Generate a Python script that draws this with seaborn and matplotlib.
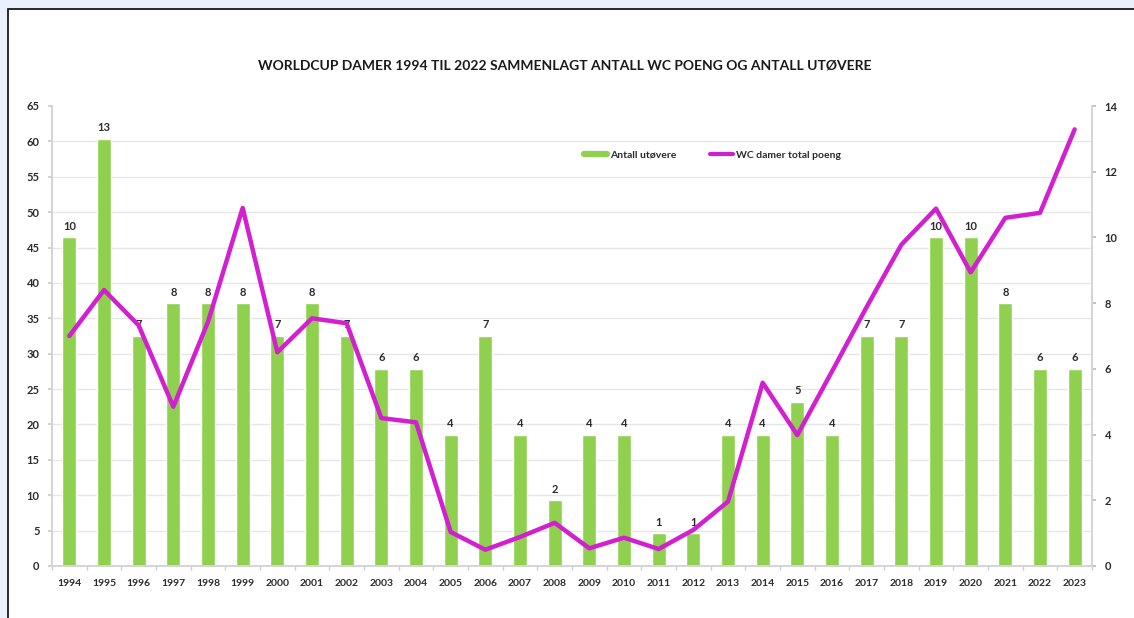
import numpy as np
import matplotlib
matplotlib.use("Agg")
import matplotlib.pyplot as plt
from matplotlib.lines import Line2D
from matplotlib.patches import Rectangle
from matplotlib.ticker import FixedLocator
import seaborn as sns

years = [str(y) for y in range(1994, 2024)]
antall = [10, 13, 7, 8, 8, 8, 7, 8, 7, 6, 6, 4, 7, 4, 2, 4, 4, 1, 1, 4,
          4, 5, 4, 7, 7, 10, 10, 8, 6, 6]
poeng = [32.5, 39, 34, 22.5, 34.5, 50.6, 30.2, 35, 34.3, 20.9, 20.3, 4.8,
         2.3, 4.1, 6.1, 2.5, 4, 2.4, 5.1, 9.1, 25.9, 18.5, 27.5, 36.6,
         45.4, 50.5, 41.5, 49.2, 49.9, 61.7]

title = "WORLDCUP DAMER 1994 TIL 2022 SAMMENLAGT ANTALL WC POENG OG ANTALL UTØVERE"
green = "#8FD14F"
magenta = "#D21FD0"
txt = "#2b2b2b"

sns.set_theme(style="white")
plt.rcParams["font.family"] = ["Lato", "DejaVu Sans"]

fig = plt.figure(figsize=(11.34, 6.18), dpi=100, facecolor="#E9F1FC")
fig.add_artist(Rectangle((8 / 1134, -0.1), 1.2, 1 - 9 / 618 + 0.1,
                         transform=fig.transFigure, facecolor="white",
                         edgecolor="#1a1a1a", lw=1.3, zorder=-1))

ax = fig.add_axes([52 / 1134, 1 - 566 / 618, 1040 / 1134, 460 / 618])
ax.patch.set_visible(False)

# bars: number of athletes, right axis scale
sns.barplot(x=years, y=antall, ax=ax, color=green, width=0.4, saturation=1)
ax.bar_label(ax.containers[0], padding=4, fontsize=8, fontweight="bold",
             color=txt)
ax.set_xlabel("")
ax.set_ylabel("")

# line: total WC points, left axis scale
ax2 = ax.twinx()
sns.lineplot(x=np.arange(len(years)), y=poeng, ax=ax2, color=magenta, lw=3.2)
ax2.set_ylim(0, 65)
ax2.yaxis.tick_left()
ax2.set_yticks(np.arange(0, 66, 5))
ax2.tick_params(axis="y", length=3, color="#cccccc", pad=6, labelsize=8,
                labelcolor=txt)
for lab in ax2.get_yticklabels():
    lab.set_fontweight("bold")
ax2.set_ylabel("")

# twinx moves the host ticks to the left, so set them right again
ax.set_ylim(0, 14)
ax.set_xlim(-0.5, len(years) - 0.5)
ax.yaxis.tick_right()
ax.set_yticks(np.arange(0, 15, 2))
ax.yaxis.set_minor_locator(FixedLocator(np.arange(0, 66, 5) * 14 / 65))
ax.grid(axis="y", which="minor", color="#e6e6e6", lw=1)
ax.tick_params(axis="y", which="major", left=False, right=True, length=3,
               color="#bbbbbb", pad=6, labelsize=8, labelcolor=txt,
               labelleft=False, labelright=True)
ax.tick_params(axis="y", which="minor", length=0, left=False, right=False)
ax.set_xticks(range(len(years)), years)
ax.xaxis.set_minor_locator(FixedLocator(np.arange(-0.5, len(years), 1)))
ax.tick_params(axis="x", which="major", length=0, pad=9, labelsize=7.5,
               labelcolor=txt)
ax.tick_params(axis="x", which="minor", bottom=True, length=3, color="#cccccc")
for lab in ax.get_xticklabels() + ax.get_yticklabels():
    lab.set_fontweight("bold")

for a in (ax, ax2):
    a.spines["top"].set_visible(False)
    for s in ("left", "right", "bottom"):
        a.spines[s].set_color("#d5d5d5")

handles = [Line2D([], [], color=green, lw=4.5),
           Line2D([], [], color=magenta, lw=3)]
fig.legend(handles, ["Antall utøvere", "WC damer total poeng"], ncol=2,
           loc="center left", bbox_to_anchor=(575 / 1134, 1 - 155 / 618),
           frameon=False, handlelength=2.2, handletextpad=0.3,
           columnspacing=3.2, prop={"size": 7.5, "weight": "bold"})
for t in fig.legends[0].get_texts():
    t.set_color(txt)

fig.text(565 / 1134, 1 - 66 / 618, title, ha="center", va="center",
         fontsize=10, fontweight="bold", color="#1a1a1a")

fig.savefig("out.png", dpi=100, facecolor=fig.get_facecolor())
